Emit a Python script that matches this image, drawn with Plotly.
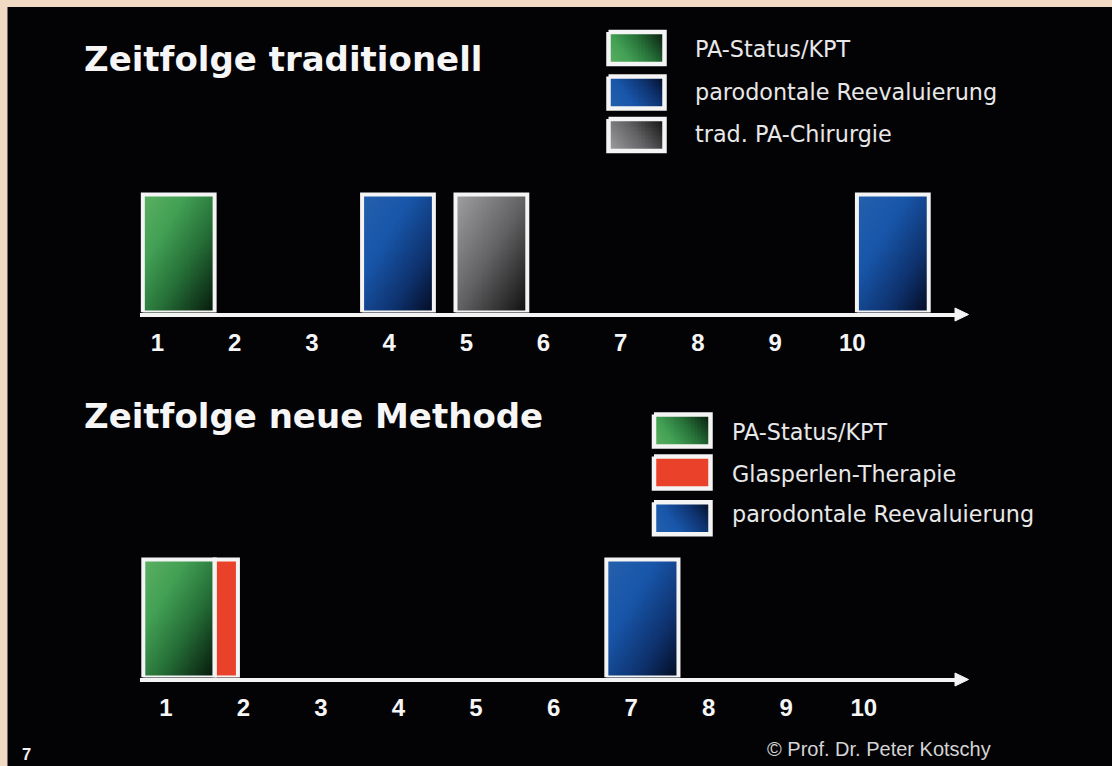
import numpy as np
import plotly.graph_objects as go

# ---------------- data ----------------
weeks = [1, 2, 3, 4, 5, 6, 7, 8, 9, 10]
tick_labels = ["1", "2", "3", "4", "5", "6", "7", "8", "9", "10"]

top_title = "Zeitfolge traditionell"
top_phase = ["PA-Status/KPT", "parodontale Reevaluierung", "trad. PA-Chirurgie", "parodontale Reevaluierung"]
top_start = [0.81, 3.65, 4.86, 10.06]
top_end = [1.74, 4.58, 5.79, 10.99]
top_value = [1, 1, 1, 1]
top_legend = ["PA-Status/KPT", "parodontale Reevaluierung", "trad. PA-Chirurgie"]

bottom_title = "Zeitfolge neue Methode"
bottom_phase = ["PA-Status/KPT", "Glasperlen-Therapie", "parodontale Reevaluierung"]
bottom_start = [0.71, 1.63, 6.68]
bottom_end = [1.63, 1.93, 7.61]
bottom_value = [1, 1, 1]
bottom_legend = ["PA-Status/KPT", "Glasperlen-Therapie", "parodontale Reevaluierung"]

footer = "© Prof. Dr. Peter Kotschy"
page_no = "7"

# ---------------- styles ----------------
W, H = 1112, 766
BG = "#030306"
BEIGE = "#f0dac4"
WHITE = "#f4f4f4"
SCALES = {
    "PA-Status/KPT": [[0, "rgb(92,176,98)"], [0.3, "rgb(66,160,84)"], [0.6, "rgb(38,112,56)"], [1, "rgb(5,22,10)"]],
    "parodontale Reevaluierung": [[0, "rgb(38,96,172)"], [0.35, "rgb(24,86,170)"], [0.7, "rgb(14,50,110)"], [1, "rgb(3,10,32)"]],
    "trad. PA-Chirurgie": [[0, "rgb(160,160,162)"], [0.5, "rgb(98,98,100)"], [1, "rgb(14,14,14)"]],
    "Glasperlen-Therapie": [[0, "rgb(234,66,42)"], [1, "rgb(234,66,42)"]],
}


def px(x):
    return x / W


def py(y):
    return 1 - y / H


fig = go.Figure()


def gradient_rect(x0, x1, y0, y1, scale, xa, ya, top_is_high=True, nx=40, ny=60, wu=1.0):
    xe = np.linspace(x0, x1, nx + 1)
    ye = np.linspace(y0, y1, ny + 1)
    u = (np.arange(nx) + 0.5) / nx
    v = (np.arange(ny) + 0.5) / ny
    if top_is_high:
        v = 1 - v  # v: 0 at top
    z = (wu * u[None, :] + (2 - wu) * v[:, None]) / 2
    fig.add_trace(go.Heatmap(x=xe, y=ye, z=z, colorscale=scale, zmin=0, zmax=1,
                             showscale=False, hoverinfo="skip", xaxis=xa, yaxis=ya))


def outline(x0, x1, y0, y1, xa, ya, width=4):
    fig.add_trace(go.Scatter(x=[x0, x1, x1, x0, x0], y=[y0, y0, y1, y1, y0], mode="lines",
                             line=dict(color=WHITE, width=width), hoverinfo="skip",
                             showlegend=False, xaxis=xa, yaxis=ya))


# bars, top panel
for ph, s, e, v in zip(top_phase, top_start, top_end, top_value):
    gradient_rect(s, e, 0, v, SCALES[ph], "x", "y")
for ph, s, e, v in zip(top_phase, top_start, top_end, top_value):
    outline(s, e, 0, v, "x", "y")

# bars, bottom panel
for ph, s, e, v in zip(bottom_phase, bottom_start, bottom_end, bottom_value):
    gradient_rect(s, e, 0, v, SCALES[ph], "x2", "y2")
for ph, s, e, v in zip(bottom_phase, bottom_start, bottom_end, bottom_value):
    outline(s, e, 0, v, "x2", "y2")

# legends (pixel overlay axes x3/y3, y downward)
annotations = []


def legend_block(names, sx0, sx1, centers, text_x, text_centers):
    for name, c, tc in zip(names, centers, text_centers):
        gradient_rect(sx0, sx1, c + 16, c - 16, SCALES[name], "x3", "y3", top_is_high=False,
                      nx=40, ny=24, wu=1.4)
        outline(sx0, sx1, c - 16, c + 16, "x3", "y3", width=4.5)
        annotations.append(dict(x=px(text_x), y=py(tc), xref="paper", yref="paper", text=name,
                                showarrow=False, xanchor="left", yanchor="middle",
                                font=dict(family="DejaVu Sans", size=22.3, color="#e8e8e8")))


legend_block(top_legend, 608.5, 664.5, [48, 92.5, 135], 693, [49, 92.5, 134])
legend_block(bottom_legend, 654, 710.5, [430.5, 472.5, 518.3], 730, [432.5, 474, 514])

# arrowheads at the end of the time axes
for yc in (314.5, 679.5):
    fig.add_trace(go.Scatter(x=[955, 968.5, 955, 955], y=[yc - 6.5, yc, yc + 6.5, yc - 6.5],
                             mode="lines", fill="toself", fillcolor=WHITE, line=dict(color=WHITE, width=1),
                             hoverinfo="skip", showlegend=False, xaxis="x3", yaxis="y3"))

# titles etc
annotations += [
    dict(x=px(82), y=py(59), text=top_title, font=dict(family="DejaVu Sans", size=34, weight=700, color="#f6f6f6")),
    dict(x=px(82), y=py(416), text=bottom_title, font=dict(family="DejaVu Sans", size=34, weight=700, color="#f6f6f6")),
    dict(x=px(765), y=py(749), text=footer, font=dict(family="Liberation Sans", size=20, color="#d4d4d4")),
    dict(x=px(20), y=py(754), text=page_no, font=dict(family="Liberation Sans", size=16.5, weight=700, color="#f0f0f0")),
]
for a in annotations[-4:]:
    a.update(xref="paper", yref="paper", showarrow=False, xanchor="left", yanchor="middle")

axis_common = dict(showline=True, linecolor=WHITE, linewidth=4, showgrid=False, zeroline=False,
                   tickvals=weeks, ticktext=tick_labels, ticks="", fixedrange=True, ticklabelstandoff=6,
                   tickfont=dict(family="Liberation Sans", size=24, weight=700, color="#f6f6f6"))
hidden_y = dict(visible=False, showgrid=False, zeroline=False, fixedrange=True)

fig.update_layout(
    width=W, height=H, margin=dict(l=0, r=0, t=0, b=0),
    paper_bgcolor=BG, plot_bgcolor="rgba(0,0,0,0)", showlegend=False,
    xaxis=dict(domain=[px(140), px(957)], range=[0.7733, 11.3562], anchor="y", **axis_common),
    yaxis=dict(domain=[py(312.5), py(170)], range=[0, 1.2076], anchor="x", **hidden_y),
    xaxis2=dict(domain=[px(140), px(957)], range=[0.6674, 11.2012], anchor="y2", **axis_common),
    yaxis2=dict(domain=[py(677.5), py(535)], range=[0, 1.2076], anchor="x2", **hidden_y),
    xaxis3=dict(domain=[0, 1], range=[0, W], anchor="y3", visible=False, fixedrange=True),
    yaxis3=dict(domain=[0, 1], range=[H, 0], anchor="x3", **hidden_y),
    annotations=annotations,
    shapes=[
        dict(type="rect", xref="paper", yref="paper", x0=0, x1=px(7.5), y0=0, y1=1, fillcolor=BEIGE, line_width=0),
        dict(type="rect", xref="paper", yref="paper", x0=0, x1=1, y0=py(7), y1=1, fillcolor=BEIGE, line_width=0),
    ],
)

fig.write_html("out.html", config={"displayModeBar": False},
               post_script="document.body.style.margin='0';document.body.style.background='%s';" % BG)
